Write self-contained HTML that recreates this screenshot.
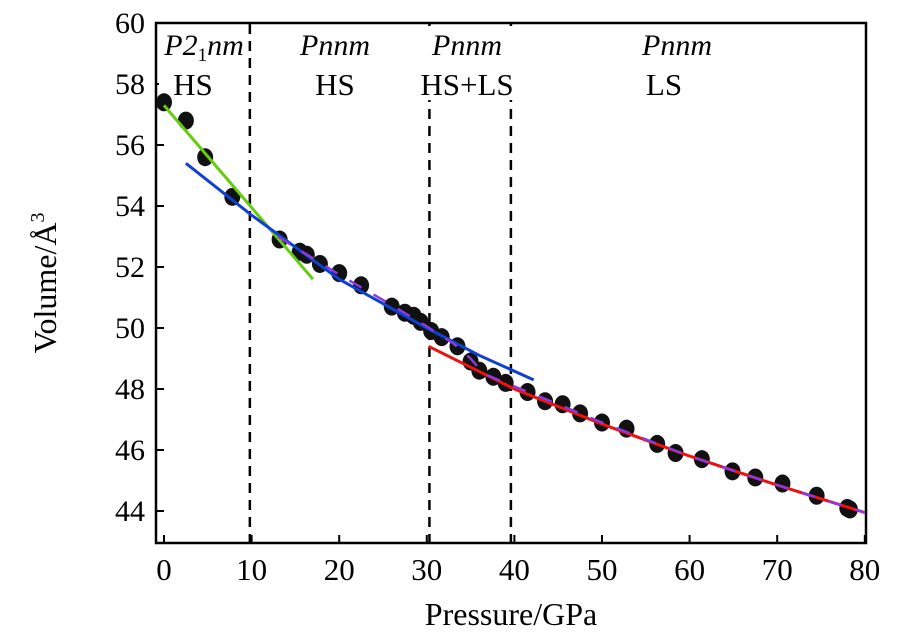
<!DOCTYPE html>
<html><head><meta charset="utf-8"><style>
body{margin:0;background:#fff}
svg text{font-family:"Liberation Serif",serif;fill:#000}
</style></head><body>
<svg id="c" width="921" height="638"></svg>
<script>
const pressures=[0,2.5,4.7,7.8,13.2,15.5,16.3,17.8,20,22.5,26,27.5,28.5,29.3,30.5,31.7,33.5,35,36,37.6,39,41.5,43.5,45.5,47.5,50,52.8,56.3,58.4,61.4,64.9,67.5,70.6,74.5,78,78.3];
const volumes=[57.4,56.8,55.6,54.3,52.9,52.5,52.4,52.1,51.8,51.4,50.7,50.5,50.4,50.2,49.9,49.7,49.4,48.9,48.6,48.4,48.2,47.9,47.6,47.5,47.2,46.9,46.7,46.2,45.9,45.7,45.3,45.1,44.9,44.5,44.1,44.05];
const greenP=[0,17],greenV=[57.3,51.6];
const blueP=[2.5,10,20,30,36,42.2],blueV=[55.4,53.7,51.6,50.0,49.1,48.3];
const redP=[30.2,40,50,60,70,80],redV=[49.4,48.0,46.85,45.8,44.85,43.95];
const purpleP=[13,20,26,30,33,35,36.5,39,45,50,60,70,80],purpleV=[53.0,51.75,50.75,50.05,49.5,49.0,48.5,48.2,47.5,46.9,45.8,44.85,43.95];
const xTicks=[0,10,20,30,40,50,60,70,80];
const yTicks=[44,46,48,50,52,54,56,58,60];
const boundaries=[9.8,30.3,39.6];
const X=p=>164+p*8.76, Y=v=>511-(v-44)*30.5;
const s=document.getElementById('c'),NS='http://www.w3.org/2000/svg';
function el(t,a,txt){const e=document.createElementNS(NS,t);for(const k in a)e.setAttribute(k,a[k]);if(txt!=null)e.textContent=txt;s.appendChild(e);return e;}
let e;
e=el('rect',{x:156,y:23,width:710,height:520,fill:'none',stroke:'#000','stroke-width':2.5});

xTicks.forEach(t=>{e=el('line',{x1:X(t),x2:X(t),y1:543,y2:535,stroke:'#000','stroke-width':2});
e=el('text',{x:X(t),y:580,'font-size':31,'text-anchor':'middle'},t);});
yTicks.forEach(t=>{e=el('line',{x1:156,x2:164,y1:Y(t),y2:Y(t),stroke:'#000','stroke-width':2});
e=el('text',{x:145,y:Y(t)+10,'font-size':30,'text-anchor':'end'},t);});
boundaries.forEach(b=>{e=el('line',{x1:X(b),x2:X(b),y1:24,y2:542,stroke:'#000','stroke-width':2.5,'stroke-dasharray':'10,7'});});
e=el('rect',{x:159,y:26,width:88,height:74,fill:'#fff'});
e=el('rect',{x:417,y:26,width:104,height:74,fill:'#fff'});
function phase(x,html,sub){const t=el('text',{x:x,y:55,'font-size':30,'font-style':'italic','text-anchor':'middle'});
if(sub){t.innerHTML='P2<tspan font-size="19" dy="6" font-style="normal">1</tspan><tspan dy="-6">nm</tspan>';}else t.textContent=html;}
phase(204,'',true);phase(335,'Pnnm');phase(467,'Pnnm');phase(677,'Pnnm');
[[193,'HS'],[335,'HS'],[467,'HS+LS'],[664,'LS']].forEach(([x,t])=>{e=el('text',{x:x,y:95,'font-size':31,'text-anchor':'middle'},t);});
pressures.forEach((p,i)=>{e=el('ellipse',{cx:X(p),cy:Y(volumes[i]),rx:8,ry:9,fill:'#111'});});
function line(P,V,c,n,w,da){const d=P.map((p,i)=>(i?'L':'M')+X(p)+','+Y(V[i])).join('');const l=el('path',{d:d,fill:'none',stroke:c,'stroke-width':w||3});if(da)l.setAttribute('stroke-dasharray',da);}
line(greenP,greenV,'#66cc11','fit-p21nm-hs');
line(blueP,blueV,'#1040d0','fit-pnnm-hs');
line(redP,redV,'#ee1111','fit-pnnm-ls');
line(purpleP,purpleV,'#8a3ae0','fit-overall',2.5,'14,14');
e=el('text',{x:511,y:625,'font-size':32,'text-anchor':'middle'},'Pressure/GPa');
e=el('text',{x:0,y:0,'font-size':32,'text-anchor':'middle',transform:'translate(56,283) rotate(-90)'});e.innerHTML='Volume/Å<tspan font-size="20" dy="-12">3</tspan>';
</script></body></html>
